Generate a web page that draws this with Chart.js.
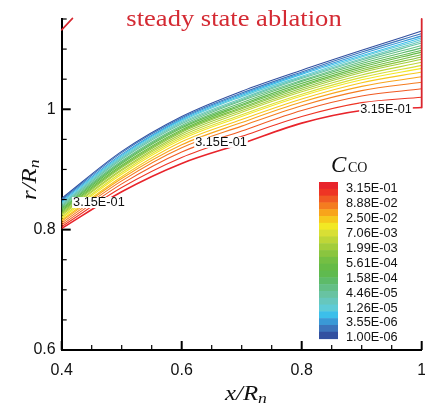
<!DOCTYPE html>
<html>
<head>
<meta charset="utf-8">
<script src="https://cdn.jsdelivr.net/npm/chart.js@4.4.1/dist/chart.umd.min.js"></script>
<style>
  html, body { margin: 0; padding: 0; background: #fff; }
  #wrap { width: 425px; height: 405px; }
</style>
</head>
<body>
<div id="wrap"><canvas id="c" width="425" height="405"></canvas></div>
<script>
// Axial stations x/Rn at which each CO iso-line is sampled
const xStations = [0.4, 0.5, 0.6, 0.7, 0.8, 0.9, 1.0];

// r/Rn of each iso-line, from the highest level (3.15E-01, at the wall) to the lowest (1.00E-06)
const rByLevel = [
  [0.802, 0.863, 0.910, 0.943, 0.977, 0.998, 1.003],
  [0.805, 0.870, 0.920, 0.955, 0.988, 1.011, 1.020],
  [0.808, 0.876, 0.929, 0.964, 0.998, 1.022, 1.034],
  [0.811, 0.881, 0.936, 0.972, 1.006, 1.031, 1.045],
  [0.814, 0.885, 0.941, 0.978, 1.012, 1.038, 1.054],
  [0.816, 0.888, 0.946, 0.983, 1.017, 1.044, 1.062],
  [0.819, 0.892, 0.950, 0.988, 1.022, 1.049, 1.068],
  [0.821, 0.895, 0.953, 0.991, 1.025, 1.053, 1.073],
  [0.824, 0.898, 0.956, 0.995, 1.029, 1.057, 1.078],
  [0.826, 0.900, 0.959, 0.998, 1.032, 1.061, 1.083],
  [0.828, 0.903, 0.962, 1.001, 1.035, 1.064, 1.087],
  [0.830, 0.905, 0.964, 1.003, 1.038, 1.067, 1.091],
  [0.832, 0.907, 0.966, 1.006, 1.040, 1.070, 1.095],
  [0.834, 0.910, 0.969, 1.008, 1.043, 1.073, 1.098],
  [0.836, 0.912, 0.971, 1.011, 1.046, 1.076, 1.102],
  [0.838, 0.914, 0.973, 1.014, 1.048, 1.079, 1.106],
  [0.840, 0.917, 0.976, 1.016, 1.051, 1.082, 1.110],
  [0.842, 0.919, 0.978, 1.018, 1.053, 1.084, 1.113],
  [0.844, 0.921, 0.980, 1.021, 1.055, 1.087, 1.116],
  [0.846, 0.923, 0.982, 1.023, 1.058, 1.089, 1.119],
  [0.848, 0.925, 0.984, 1.025, 1.060, 1.092, 1.122],
  [0.850, 0.928, 0.986, 1.027, 1.062, 1.095, 1.126],
  [0.852, 0.930, 0.988, 1.030, 1.065, 1.098, 1.130]
];

// Ablating wall face at x/Rn = 1 (continues the 3.15E-01 line upward)
const wallX = [1.0, 1.0];
const wallR = [1.003, 1.15];

// Short piece of the same level near the upper-left corner
const cornerX = [0.4, 0.418];
const cornerR = [1.132, 1.151];

// Colour-bar labels, top to bottom
const legendLabels = ['3.15E-01', '8.88E-02', '2.50E-02', '7.06E-03', '1.99E-03', '5.61E-04',
                      '1.58E-04', '4.46E-05', '1.26E-05', '3.55E-06', '1.00E-06'];

// Level value written on the in-plot labels
const contourLabelText = '3.15E-01';

// ---- styling ----
const levelColors = [
  '#e8242b', '#ee3524', '#f05a23', '#f47c20', '#f8a41b', '#f6c91d', '#f2e824', '#d8df35',
  '#bed637', '#a3cd3a', '#8ac53f', '#74bf43', '#66bb46', '#5fba4f', '#5dbb69', '#63bf86',
  '#68c3a2', '#66c7bd', '#5ecbd6', '#3cbfea', '#3a99d6', '#3c74bb', '#3250a0'
];
const wallRed = '#d8262e';
const labelSpots = [ { x: 0.462, y: 0.845 }, { x: 0.6655, y: 0.945 }, { x: 0.9405, y: 1.0 } ];

function pts(xs, ys) { return xs.map((x, i) => ({ x: x, y: ys[i] })); }

const datasets = rByLevel.map((row, i) => ({
  data: pts(xStations, row),
  borderColor: levelColors[i],
  borderWidth: i === 0 ? 1.6 : 1.1,
  pointRadius: 0,
  fill: false,
  cubicInterpolationMode: 'monotone',
  order: i === 0 ? 0 : 1
}));
datasets.push({ data: pts(wallX, wallR), borderColor: wallRed, borderWidth: 1.8, pointRadius: 0, tension: 0, clip: 4, order: 0 });
datasets.push({ data: pts(cornerX, cornerR), borderColor: wallRed, borderWidth: 1.6, pointRadius: 0, tension: 0, clip: 2, order: 0 });

function isMajor(v) { return Math.abs(v * 5 - Math.round(v * 5)) < 1e-6; }
function fmt(v) { return Math.abs(v - 1) < 1e-9 ? '1' : v.toFixed(1); }

function stretchText(ctx, txt, x, y, sx) {
  ctx.save(); ctx.translate(x, y); ctx.scale(sx, 1); ctx.fillText(txt, 0, 0); ctx.restore();
}

// inward tick marks, major and minor
const tickMarks = {
  id: 'tickMarks',
  afterDraw(chart) {
    const { ctx, chartArea: a, scales } = chart;
    ctx.save();
    ctx.strokeStyle = '#000';
    scales.x.ticks.forEach(t => {
      const p = scales.x.getPixelForValue(t.value);
      const maj = isMajor(t.value);
      ctx.lineWidth = maj ? 2 : 1.2;
      ctx.beginPath(); ctx.moveTo(p, a.bottom); ctx.lineTo(p, a.bottom - (maj ? 9 : 5)); ctx.stroke();
    });
    scales.y.ticks.forEach(t => {
      const p = scales.y.getPixelForValue(t.value);
      const maj = isMajor(t.value);
      ctx.lineWidth = maj ? 2 : 1.2;
      ctx.beginPath(); ctx.moveTo(a.left, p); ctx.lineTo(a.left + (maj ? 9 : 5), p); ctx.stroke();
    });
    ctx.restore();
  }
};

// level labels written on the lines
const lineLabels = {
  id: 'lineLabels',
  afterDatasetsDraw(chart) {
    const { ctx, scales } = chart;
    ctx.save();
    ctx.font = '12px "Liberation Sans", Arial, sans-serif';
    ctx.textBaseline = 'middle';
    ctx.textAlign = 'left';
    const sx = 1.06;
    labelSpots.forEach(s => {
      const px = scales.x.getPixelForValue(s.x);
      const py = scales.y.getPixelForValue(s.y);
      const w = ctx.measureText(contourLabelText).width * sx;
      ctx.fillStyle = '#fff';
      ctx.fillRect(px - w / 2 - 1, py - 5.5, w + 2, 11);
      ctx.fillStyle = '#111';
      stretchText(ctx, contourLabelText, px - w / 2, py + 0.5, sx);
    });
    ctx.restore();
  }
};

// titles, axis names with subscripts, and the colour bar
const annotations = {
  id: 'annotations',
  afterDraw(chart) {
    const { ctx } = chart;
    ctx.save();
    ctx.textBaseline = 'alphabetic';
    ctx.textAlign = 'left';

    // heading
    ctx.fillStyle = '#d42a33';
    ctx.font = '23.5px "Liberation Serif", "Times New Roman", serif';
    const head = 'steady state ablation';
    const hw = ctx.measureText(head).width * 1.13;
    stretchText(ctx, head, 234 - hw / 2, 26, 1.13);

    // x axis name
    ctx.fillStyle = '#111';
    ctx.font = 'italic 21px "Liberation Serif", "Times New Roman", serif';
    const xa = 'x/R';
    const xw = ctx.measureText(xa).width * 1.18;
    stretchText(ctx, xa, 225, 400, 1.18);
    ctx.font = 'italic 15px "Liberation Serif", "Times New Roman", serif';
    stretchText(ctx, 'n', 225 + xw, 403, 1.18);

    // y axis name (rotated)
    ctx.save();
    ctx.translate(36, 200);
    ctx.rotate(-Math.PI / 2);
    ctx.font = 'italic 21px "Liberation Serif", "Times New Roman", serif';
    const yw = ctx.measureText('r/R').width * 1.18;
    stretchText(ctx, 'r/R', 0, 0, 1.18);
    ctx.font = 'italic 15px "Liberation Serif", "Times New Roman", serif';
    stretchText(ctx, 'n', yw, 3, 1.18);
    ctx.restore();

    // colour bar heading C_CO
    ctx.font = 'italic 23px "Liberation Serif", "Times New Roman", serif';
    ctx.fillText('C', 331, 172);
    ctx.font = '14px "Liberation Serif", "Times New Roman", serif';
    ctx.fillText('CO', 348, 172);

    // colour bar
    const bx = 319, bw = 19, top = 182, bot = 338.6;
    const n = levelColors.length;
    const bh = (bot - top) / n;
    levelColors.forEach((c, i) => {
      ctx.fillStyle = c;
      ctx.fillRect(bx, top + i * bh, bw, bh + 0.5);
    });
    ctx.fillStyle = '#111';
    ctx.font = '12px "Liberation Sans", Arial, sans-serif';
    ctx.textBaseline = 'middle';
    legendLabels.forEach((t, i) => {
      stretchText(ctx, t, 346, 189 + i * 14.9, 1.06);
    });
    ctx.restore();
  }
};

Chart.defaults.font.family = '"Liberation Sans", Arial, sans-serif';

new Chart(document.getElementById('c'), {
  type: 'line',
  data: { datasets: datasets },
  options: {
    responsive: false,
    animation: false,
    devicePixelRatio: 1,
    layout: { padding: { left: 21.7, right: 3.3, top: 19, bottom: 0 } },
    plugins: { legend: { display: false }, tooltip: { enabled: false }, title: { display: false } },
    elements: { line: { borderCapStyle: 'round', borderJoinStyle: 'round' } },
    scales: {
      x: {
        type: 'linear', min: 0.4, max: 1.0,
        grid: { display: false, drawTicks: false },
        border: { display: true, color: '#000', width: 2 },
        ticks: {
          stepSize: 0.05, padding: 11, color: '#111', maxRotation: 0, autoSkip: false,
          font: { size: 16 },
          callback: v => isMajor(v) ? fmt(v) : ''
        },
        afterFit: s => { s.height = 55; s.paddingLeft = 0; s.paddingRight = 0; }
      },
      y: {
        type: 'linear', min: 0.6, max: 1.15,
        grid: { display: false, drawTicks: false },
        border: { display: true, color: '#000', width: 2 },
        ticks: {
          stepSize: 0.05, padding: 6, color: '#111', autoSkip: false,
          font: { size: 16 },
          callback: v => isMajor(v) ? fmt(v) : ''
        },
        afterFit: s => { s.width = 40; s.paddingTop = 0; s.paddingBottom = 0; }
      }
    }
  },
  plugins: [lineLabels, tickMarks, annotations]
});
</script>
</body>
</html>
